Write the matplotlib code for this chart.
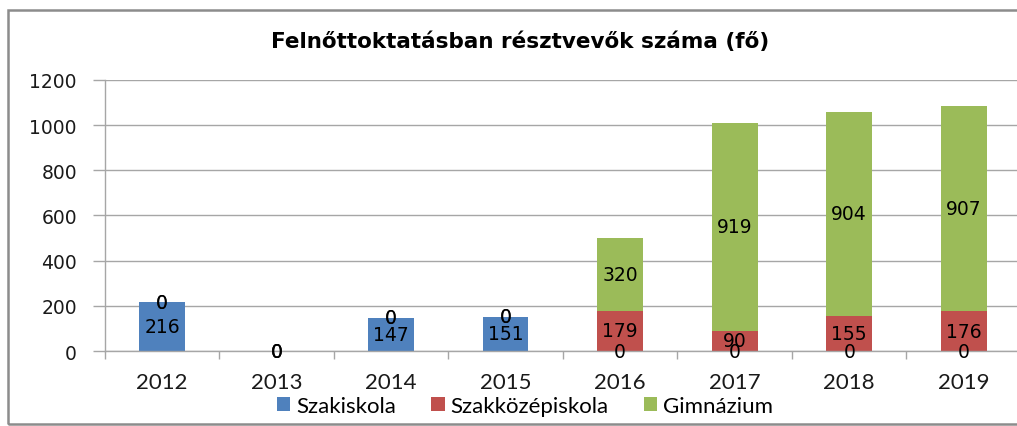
import matplotlib
matplotlib.use("Agg")
import matplotlib.pyplot as plt
from matplotlib.patches import Rectangle
import numpy as np

years = ["2012", "2013", "2014", "2015", "2016", "2017", "2018", "2019"]
szakiskola = [216, 0, 147, 151, 0, 0, 0, 0]
szakkozep = [0, 0, 0, 0, 179, 90, 155, 176]
gimnazium = [0, 0, 0, 0, 320, 919, 904, 907]
series_names = ["Szakiskola", "Szakközépiskola", "Gimnázium"]
colors = ["#4F81BD", "#C0504D", "#9BBB59"]
title = "Felnőttoktatásban résztvevők száma (fő)"

W, H = 1017, 427
fig = plt.figure(figsize=(W / 100, H / 100), dpi=100)
left_px, right_px, top_px, bot_px = 104.7, 1021, 81, 352
ax = fig.add_axes([left_px / W, 1 - bot_px / H, (right_px - left_px) / W, (bot_px - top_px) / H])

x = np.arange(len(years))
grid_c = "#A6A6A6"
ax.set_axisbelow(True)
ax.yaxis.grid(True, color=grid_c, linewidth=1.0)

bottom = np.zeros(len(years))
for vals, name, col in zip([szakiskola, szakkozep, gimnazium], series_names, colors):
    bars = ax.bar(x, vals, width=0.40, bottom=bottom, color=col, label=name,
                  edgecolor="none")
    ax.bar_label(bars, labels=[str(v) for v in vals], label_type="center",
                 fontsize=13.5, color="black", family="DejaVu Sans")
    bottom = bottom + np.array(vals)

ax.set_xlim(-0.5, len(years) - 0.5)
ax.set_ylim(0, 1200)
ax.set_yticks(np.arange(0, 1201, 200))
ax.set_xticks(x)
ax.set_xticklabels(years, family="Lato", fontsize=16)
ax.set_xticks(np.arange(-0.5, len(years), 1), minor=True)
ax.tick_params(axis="x", which="major", length=0, pad=15, colors="#1a1a1a")
ax.tick_params(axis="x", which="minor", length=6, color=grid_c, width=1)
ax.tick_params(axis="y", length=9, color=grid_c, width=1, pad=11, labelsize=13.5,
               labelcolor="#1a1a1a")

for s in ["top", "right"]:
    ax.spines[s].set_visible(False)
for s in ["left", "bottom"]:
    ax.spines[s].set_color(grid_c)
    ax.spines[s].set_linewidth(1.0)

fig.text(520 / W, 1 - 42 / H, title, ha="center", va="center",
         family="DejaVu Sans", fontweight="bold", fontsize=15.5)

leg = fig.legend(loc="center", bbox_to_anchor=(525 / W, 1 - 407 / H), ncol=3,
                 frameon=False, handlelength=0.6, handleheight=0.6,
                 handletextpad=0.25, columnspacing=1.6,
                 prop={"family": "Lato", "size": 16})

fig.patches.append(Rectangle((8 / W, 2 / H), 1.5, 1 - 13 / H, transform=fig.transFigure,
                             fill=False, edgecolor="#8C8C8C", linewidth=1.8))

fig.savefig("out.png", dpi=100)
